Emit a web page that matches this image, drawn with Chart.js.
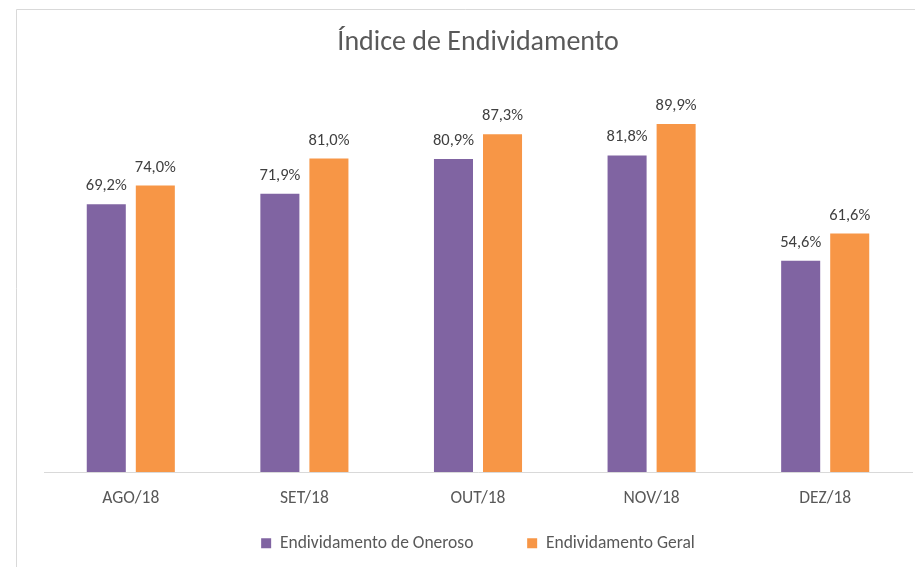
<!DOCTYPE html>
<html>
<head>
<meta charset="utf-8">
<script src="https://cdn.jsdelivr.net/npm/chart.js@4"></script>
<style>
html,body{margin:0;padding:0;background:#fff;}
#wrap{width:915px;height:567px;position:relative;}
</style>
</head>
<body>
<div id="wrap"><canvas id="c" width="915" height="567"></canvas></div>
<script>
const categories = ['AGO/18', 'SET/18', 'OUT/18', 'NOV/18', 'DEZ/18'];
const seriesNames = ['Endividamento de Oneroso', 'Endividamento Geral'];
const oneroso = [69.2, 71.9, 80.9, 81.8, 54.6];
const geral = [74.0, 81.0, 87.3, 89.9, 61.6];
const chartTitle = 'Índice de Endividamento';

const FONT = "Carlito, 'Liberation Sans Narrow', 'Open Sans', sans-serif";

const borderPlugin = {
  id: 'frame',
  beforeDraw(chart) {
    const ctx = chart.ctx;
    ctx.save();
    ctx.fillStyle = '#fff';
    ctx.fillRect(0, 0, chart.width, chart.height);
    ctx.strokeStyle = '#d9d9d9';
    ctx.lineWidth = 1;
    ctx.beginPath();
    ctx.moveTo(16.5, chart.height);
    ctx.lineTo(16.5, 9.5);
    ctx.lineTo(chart.width, 9.5);
    ctx.stroke();
    ctx.restore();
  }
};

const labelPlugin = {
  id: 'valueLabels',
  afterDatasetsDraw(chart) {
    const ctx = chart.ctx;
    ctx.save();
    ctx.font = '16.5px ' + FONT;
    ctx.fillStyle = '#404040';
    ctx.textAlign = 'center';
    ctx.textBaseline = 'alphabetic';
    chart.data.datasets.forEach((ds, i) => {
      const meta = chart.getDatasetMeta(i);
      meta.data.forEach((bar, j) => {
        const v = ds.data[j];
        const txt = v.toFixed(1).replace('.', ',') + '%';
        ctx.fillText(txt, bar.x, bar.y - 14);
      });
    });
    ctx.restore();
  }
};

new Chart(document.getElementById('c'), {
  type: 'bar',
  data: {
    labels: categories,
    datasets: [
      { label: seriesNames[0], data: oneroso, backgroundColor: '#8064A2' },
      { label: seriesNames[1], data: geral, backgroundColor: '#F79646' }
    ]
  },
  options: {
    responsive: false,
    animation: false,
    devicePixelRatio: 1,
    layout: { padding: { left: 44, right: 3, top: 0, bottom: 5 } },
    datasets: { bar: { categoryPercentage: 0.565, barPercentage: 0.796 } },
    scales: {
      x: {
        grid: { display: false, drawTicks: false },
        border: { display: true, color: '#d9d9d9', width: 1 },
        ticks: { color: '#595959', font: { family: FONT, size: 17.5 }, padding: 15.75 }
      },
      y: { display: false, min: 0, max: 100 }
    },
    plugins: {
      title: {
        display: true,
        text: chartTitle,
        color: '#595959',
        font: { family: FONT, size: 28, weight: 'normal' },
        padding: { top: 26, bottom: 25.4 }
      },
      legend: {
        position: 'bottom',
        labels: {
          color: '#595959',
          font: { family: FONT, size: 17.5 },
          boxWidth: 10,
          boxHeight: 10,
          padding: 10,
          generateLabels(chart) {
            const items = Chart.defaults.plugins.legend.labels.generateLabels(chart);
            items.forEach(it => { it.lineWidth = 0; });
            if (items.length) items[0].text = items[0].text + '\u2003\u2003\u2002';
            return items;
          }
        }
      },
      tooltip: { enabled: false }
    }
  },
  plugins: [borderPlugin, labelPlugin]
});
</script>
</body>
</html>
